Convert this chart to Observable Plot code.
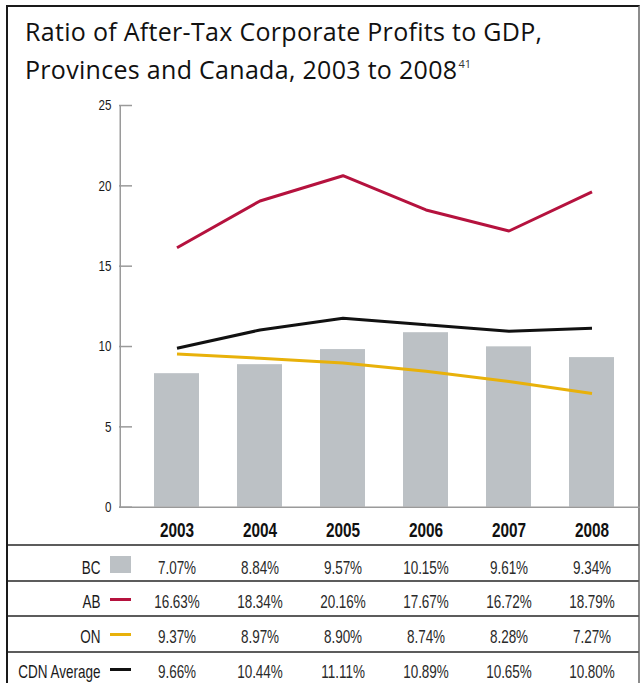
<!DOCTYPE html>
<html><head><meta charset="utf-8">
<script src="https://cdn.jsdelivr.net/npm/d3@7"></script>
<script src="https://cdn.jsdelivr.net/npm/@observablehq/plot@0.6"></script>
<style>
html,body{margin:0;padding:0;background:#fff;}
#wrap{position:relative;width:642px;height:683px;overflow:hidden;background:#fff;}
#border{position:absolute;left:6px;top:5px;width:634px;height:720px;box-sizing:border-box;border-top:2px solid #1a1a1a;border-left:2px solid #1a1a1a;border-right:2px solid #8c8c8c;}
.t{position:absolute;left:25px;font-family:"Open Sans",sans-serif;font-size:25px;line-height:25px;letter-spacing:0.3px;color:#111;white-space:nowrap;}
.t sup{font-size:11px;line-height:0;vertical-align:11px;letter-spacing:0;color:#333;margin-left:1px;}
#chart{position:absolute;left:0;top:90px;}
.hline{position:absolute;left:8px;width:631px;height:2px;background:#5c5c5c;}
.sw{position:absolute;left:110px;width:21px;}
</style>
</head><body>
<div id="wrap">
  <div id="border"></div>
  <div class="t" id="t1" style="top:19px">Ratio of After-Tax Corporate Profits to GDP,</div>
  <div class="t" id="t2" style="top:57px">Provinces and Canada, 2003 to 2008<sup>41</sup></div>
  <div id="chart"></div>
</div>
<script>
// ---- data ----
const years = ["2003", "2004", "2005", "2006", "2007", "2008"];
const bcBars = [8.31, 8.87, 9.81, 10.86, 9.98, 9.31];
const abLine = [16.15, 19.06, 20.63, 18.5, 17.19, 19.63];
const onLine = [9.54, 9.27, 8.98, 8.46, 7.82, 7.07];
const cdnLine = [9.89, 11.03, 11.76, 11.35, 10.95, 11.13];
const yTicks = [0, 5, 10, 15, 20, 25];
const rowLabels = ["BC", "AB", "ON", "CDN Average"];
const bcTable = ["7.07%", "8.84%", "9.57%", "10.15%", "9.61%", "9.34%"];
const abTable = ["16.63%", "18.34%", "20.16%", "17.67%", "16.72%", "18.79%"];
const onTable = ["9.37%", "8.97%", "8.90%", "8.74%", "8.28%", "7.27%"];
const cdnTable = ["9.66%", "10.44%", "11.11%", "10.89%", "10.65%", "10.80%"];

const colors = {BC: "#bcc1c5", AB: "#b5123e", ON: "#e8b10a", CDN: "#111111"};
const cond = '"Liberation Sans",Arial,sans-serif';

const rows = years.map((y, i) => ({year: y, BC: bcBars[i], AB: abLine[i], ON: onLine[i], CDN: cdnLine[i],
  tBC: bcTable[i], tAB: abTable[i], tON: onTable[i], tCDN: cdnTable[i]}));

const W = 642, H = 593, mL = 119, mR = 2, mT = 15, mB = 176.3;
const frameW = W - mL - mR;
const base = 506.7 - 90; // frame bottom in svg coords
const baselines = [573, 607, 642, 677].map(b => b - 90 - base);
const tableTexts = ["tBC", "tAB", "tON", "tCDN"];

const marks = [
  Plot.barY(rows, {x: "year", y: "BC", fill: colors.BC}),
  Plot.frame({fill: "#9a9a9a", stroke: "none", insetRight: frameW - 1.5}),
  Plot.ruleY(yTicks, {stroke: "#9a9a9a", strokeWidth: 1.5, insetRight: frameW - 13}),
  Plot.ruleY([0], {stroke: "#9a9a9a", strokeWidth: 1.5}),
  Plot.line(rows, {x: "year", y: "AB", stroke: colors.AB, strokeWidth: 3, strokeLinecap: "butt", strokeLinejoin: "miter"}),
  Plot.line(rows, {x: "year", y: "CDN", stroke: colors.CDN, strokeWidth: 3, strokeLinecap: "butt", strokeLinejoin: "miter"}),
  Plot.line(rows, {x: "year", y: "ON", stroke: colors.ON, strokeWidth: 3, strokeLinecap: "butt", strokeLinejoin: "miter"}),
  Plot.axisY({ticks: yTicks, tickSize: 0, tickPadding: 8, label: null, fontSize: 15.5, fill: "#1a1a1a"}),
  Plot.axisX({tickSize: 0, tickPadding: 15, label: null, fontSize: 20.5, fontWeight: "bold", fill: "#111"})
];
tableTexts.forEach((k, r) => {
  marks.push(Plot.text(rows, {x: "year", text: k, frameAnchor: "bottom", lineAnchor: "bottom", dy: baselines[r], fontSize: 18, fill: "#2a2a2a"}));
  marks.push(Plot.text([rowLabels[r]], {frameAnchor: "bottom-left", textAnchor: "end", lineAnchor: "bottom", dx: 100 - mL, dy: baselines[r], fontSize: 18, fill: "#1a1a1a"}));
});

const chart = Plot.plot({
  width: W, height: H,
  marginLeft: mL, marginRight: mR, marginTop: mT, marginBottom: mB,
  style: {fontFamily: cond, background: "transparent", overflow: "visible"},
  x: {domain: years, paddingInner: 0.458, paddingOuter: 0.3675, align: 0.574, axis: null},
  y: {domain: [0, 25], axis: null},
  marks
});

// narrow the chart's sans text horizontally (condensed look); keep em-based y offsets
chart.querySelectorAll("text").forEach(t => {
  let tr = t.getAttribute("transform") || "";
  const x = t.getAttribute("x");
  if (x != null && isFinite(+x) && +x !== 0) {
    tr = `translate(${+x},0) ` + tr;
    t.removeAttribute("x");
  }
  t.setAttribute("transform", tr + " scale(0.75,1)");
});
document.getElementById("chart").appendChild(chart);

// table rules & legend swatches
const wrap = document.getElementById("wrap");
[545, 580.5, 616, 651.5].forEach(t => {
  const d = document.createElement("div"); d.className = "hline"; d.style.top = (t - 1) + "px"; wrap.appendChild(d);
});
const sw = [
  {top: 556, h: 17, c: colors.BC},
  {top: 597.5, h: 3, c: colors.AB},
  {top: 632.5, h: 3, c: colors.ON},
  {top: 668, h: 3, c: colors.CDN}
];
sw.forEach(s => {
  const d = document.createElement("div"); d.className = "sw";
  d.style.top = s.top + "px"; d.style.height = s.h + "px"; d.style.background = s.c; wrap.appendChild(d);
});
</script>
</body></html>
